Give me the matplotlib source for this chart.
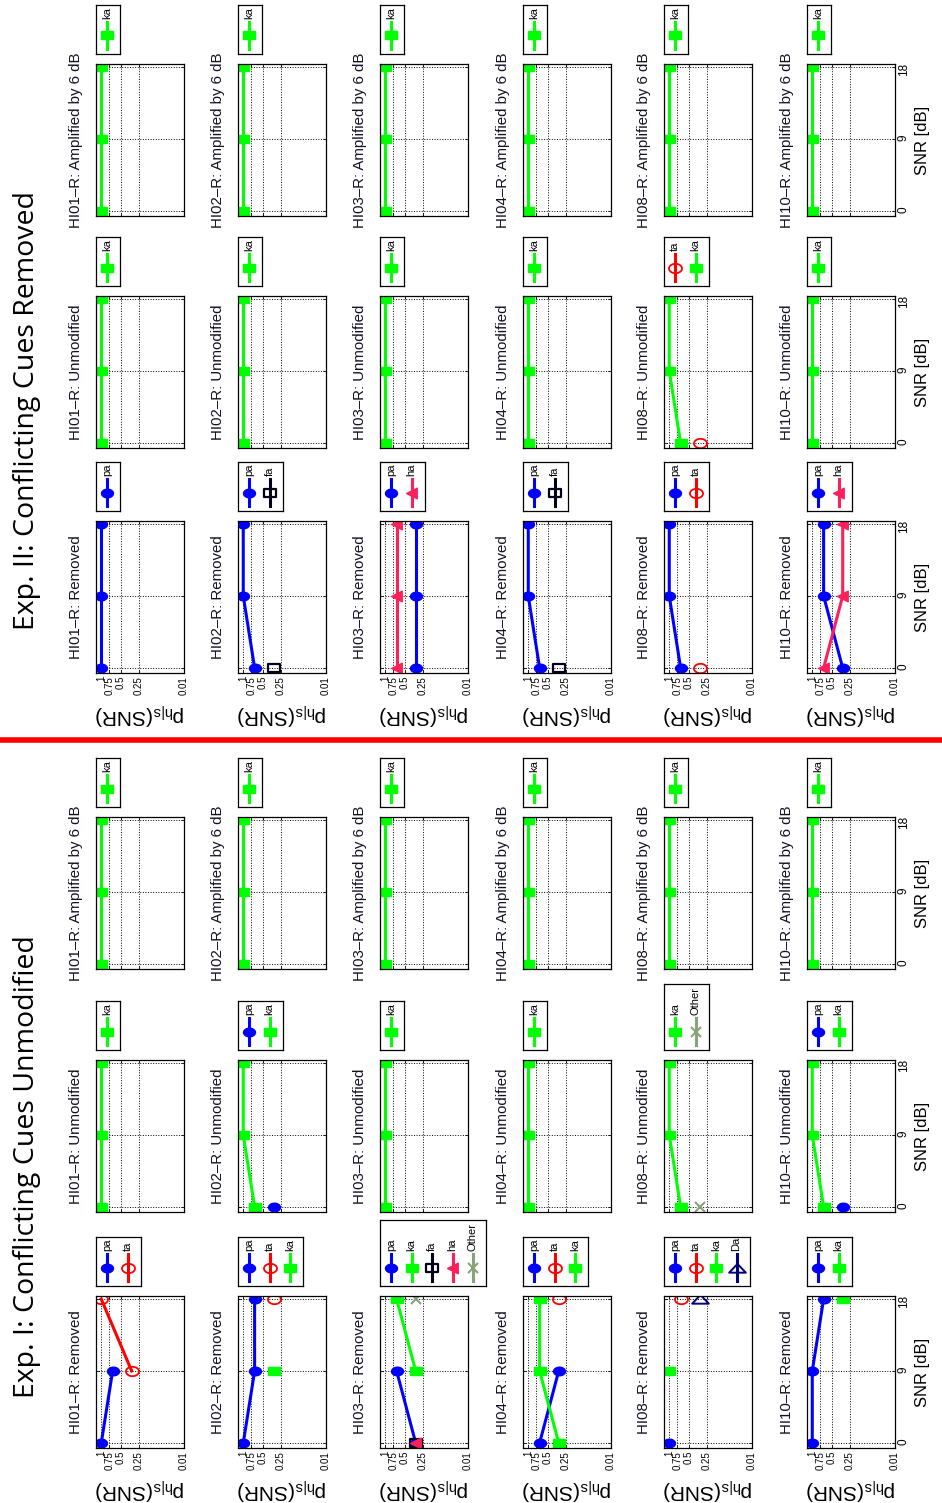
#!/usr/bin/env python3
import numpy as np
import matplotlib
matplotlib.use('Agg')
import matplotlib.pyplot as plt
from matplotlib.lines import Line2D
from matplotlib.path import Path

N = np.nan

#  ---data---
SNR = [0, 9, 18]
SUBJECTS = ['HI01', 'HI02', 'HI03', 'HI04', 'HI08', 'HI10']
CONDITIONS = ['Removed', 'Unmodified', 'Amplified by 6 dB']
P_TICKS = [0.01, 0.25, 0.5, 0.75, 1]
P_TICK_LABELS = ['0.01', '0.25', '0.5', '0.75', '1']
EXP_TITLES = ['Exp. I: Conflicting Cues Unmodified', 'Exp. II: Conflicting Cues Removed']

# one dict per subject: response -> p_{h|s} at SNR 0, 9, 18 (nan = no answer)
EXP1_REMOVED = [
    {'pa': [1, 0.67, N], 'ta': [N, 0.33, 1]},
    {'pa': [1, 0.67, 0.67], 'ta': [N, N, 0.33], 'ka': [N, 0.33, N]},
    {'pa': [0.33, 0.67, N], 'ka': [N, 0.33, 0.67], 'fa': [0.33, N, N],
     'ha': [0.33, N, N], 'Other': [N, N, 0.33]},
    {'pa': [0.67, 0.33, N], 'ta': [N, N, 0.33], 'ka': [0.33, 0.67, 0.67]},
    {'pa': [1, N, N], 'ta': [N, N, 0.67], 'ka': [N, 1, N], 'Da': [N, N, 0.33]},
    {'pa': [1, 1, 0.67], 'ka': [N, N, 0.33]},
]
EXP1_UNMODIFIED = [
    {'ka': [1, 1, 1]},
    {'pa': [0.33, N, N], 'ka': [0.67, 1, 1]},
    {'ka': [1, 1, 1]},
    {'ka': [1, 1, 1]},
    {'ka': [0.67, 1, 1], 'Other': [0.33, N, N]},
    {'pa': [0.33, N, N], 'ka': [0.67, 1, 1]},
]
EXP1_AMPLIFIED = [
    {'ka': [1, 1, 1]},
    {'ka': [1, 1, 1]},
    {'ka': [1, 1, 1]},
    {'ka': [1, 1, 1]},
    {'ka': [1, 1, 1]},
    {'ka': [1, 1, 1]},
]
EXP2_REMOVED = [
    {'pa': [1, 1, 1]},
    {'pa': [0.67, 1, 1], 'fa': [0.33, N, N]},
    {'pa': [0.33, 0.33, 0.33], 'ha': [0.67, 0.67, 0.67]},
    {'pa': [0.67, 1, 1], 'fa': [0.33, N, N]},
    {'pa': [0.67, 1, 1], 'ta': [0.33, N, N]},
    {'pa': [0.33, 0.67, 0.67], 'ha': [0.67, 0.33, 0.33]},
]
EXP2_UNMODIFIED = [
    {'ka': [1, 1, 1]},
    {'ka': [1, 1, 1]},
    {'ka': [1, 1, 1]},
    {'ka': [1, 1, 1]},
    {'ta': [0.33, N, N], 'ka': [0.67, 1, 1]},
    {'ka': [1, 1, 1]},
]
EXP2_AMPLIFIED = [
    {'ka': [1, 1, 1]},
    {'ka': [1, 1, 1]},
    {'ka': [1, 1, 1]},
    {'ka': [1, 1, 1]},
    {'ka': [1, 1, 1]},
    {'ka': [1, 1, 1]},
]

#  ---layout, in pixels of the (rotated) picture---
FIG_W, FIG_H = 942, 1503
ROW_X = [96, 238, 380, 523, 664, 807]   # one panel row per subject
AX_W, AX_H = 88, 152
EXP1_TOPS = [1296, 1060, 817]           # Removed, Unmodified, Amplified
EXP2_TOPS = [521, 296, 64]
TITLE_XY = [(27, 1167), (27, 410)]
SEPARATOR_Y = 740
LINE_W = 2.2

plt.rcParams['font.family'] = ['Liberation Sans', 'DejaVu Sans']
plt.rcParams['mathtext.default'] = 'regular'

# markers are squashed like the rest of the picture
_t = np.linspace(0, 2 * np.pi, 41)
ELLIPSE = Path(np.c_[np.cos(_t), 0.72 * np.sin(_t)], closed=True)
RECT = Path([(-1, -0.62), (1, -0.62), (1, 0.62), (-1, 0.62), (-1, -0.62)], closed=True)
TRI_LEFT = Path([(-1, 0), (0.8, 0.9), (0.8, -0.9), (-1, 0)], closed=True)
TRI_UP = Path([(-1, -0.5), (1, -0.5), (0, 0.55), (-1, -0.5)], closed=True)

STYLE = {
    'pa': dict(color='#0000ff', marker=ELLIPSE, ms=8.6, filled=True, mew=1),
    'ta': dict(color='#ff0000', marker=ELLIPSE, ms=9.4, filled=False, mew=1.3),
    'ka': dict(color='#00ff00', marker=RECT, ms=8.6, filled=True, mew=1),
    'fa': dict(color='#00001a', marker=RECT, ms=8.6, filled=False, mew=1.6),
    'ha': dict(color='#ff1f5b', marker=TRI_LEFT, ms=8.5, filled=True, mew=1),
    'Da': dict(color='#00007a', marker=TRI_UP, ms=12, filled=False, mew=1.4),
    'Other': dict(color='#86a37a', marker='x', ms=6.5, filled=False, mew=1.5),
}


def p_fwd(p):
    # probability axis, stretched towards 1
    return np.log(np.clip(np.asarray(p, dtype=float) + 0.06, 1e-6, None))


def p_inv(u):
    return np.exp(u) - 0.06


def px_rect(x, top, w, h):
    return [x / FIG_W, 1 - (top + h) / FIG_H, w / FIG_W, h / FIG_H]


def marker_kw(name):
    st = STYLE[name]
    return dict(color=st['color'], lw=LINE_W, marker=st['marker'], ms=st['ms'],
                mfc=st['color'] if st['filled'] else 'none', mec=st['color'], mew=st['mew'])


def draw_legend(fig, x, ax_top, names):
    n = len(names)
    w = 20.5 * n + 3.5
    h = 38 + 5.6 * max(len(s) for s in names)
    lax = fig.add_axes(px_rect(x, ax_top - 10 - h, w, h))
    lax.set_xlim(0, w)
    lax.set_ylim(0, h)
    lax.set_xticks([])
    lax.set_yticks([])
    for s in lax.spines.values():
        s.set_linewidth(0.9)
    for i, name in enumerate(names):
        cx = 11 + 20.5 * i
        kw = marker_kw(name)
        lax.plot([cx, cx], [5, 32], color=kw['color'], lw=LINE_W)
        kw.pop('lw')
        lax.plot([cx], [18.5], ls='none', **kw)
        lax.text(cx, 35, name, rotation=90, ha='center', va='bottom', fontsize=8)


def draw_panel(fig, x, top, series, title, show_p, show_snr):
    ax = fig.add_axes(px_rect(x, top, AX_W, AX_H))
    ax.set_xscale('function', functions=(p_fwd, p_inv))
    for name, vals in series.items():
        ax.plot(vals, SNR, **marker_kw(name))
    ax.set_xlim(1.2, 0.01)
    ax.set_ylim(-0.63, 18.38)
    ax.set_xticks(P_TICKS)
    ax.set_xticklabels(P_TICK_LABELS)
    ax.set_yticks(SNR)
    ax.grid(True, ls=':', color='k', lw=0.7)
    ax.tick_params(direction='in', length=2.5, width=0.6, top=True, right=True, pad=2,
                   labelbottom=show_p, labelleft=False, labelright=show_snr)
    ax.tick_params(axis='x', labelrotation=90, labelsize=7)
    ax.tick_params(axis='y', labelrotation=90, labelsize=8.5)
    for s in ax.spines.values():
        s.set_linewidth(0.9)
    ax.annotate(title, xy=(0, 0.5), xycoords='axes fraction', xytext=(-13, 0),
                textcoords='offset pixels', rotation=90, ha='right', va='center',
                fontsize=10.8, color='#111122')
    if show_p:
        ax.set_xlabel(r'p$_{h|s}$(SNR)', rotation=180, fontsize=15, labelpad=5)
    if show_snr:
        ax.yaxis.set_label_position('right')
        ax.set_ylabel('SNR [dB]', fontsize=12, labelpad=4)
    draw_legend(fig, x, top, list(series))
    return ax


def main():
    fig = plt.figure(figsize=(FIG_W / 100, FIG_H / 100), dpi=100)
    experiments = [([EXP1_REMOVED, EXP1_UNMODIFIED, EXP1_AMPLIFIED], EXP1_TOPS),
                   ([EXP2_REMOVED, EXP2_UNMODIFIED, EXP2_AMPLIFIED], EXP2_TOPS)]
    for e, (conds, tops) in enumerate(experiments):
        for c, cond in enumerate(CONDITIONS):
            for r, subj in enumerate(SUBJECTS):
                draw_panel(fig, ROW_X[r], tops[c], conds[c][r], f'{subj}\u2013R: {cond}',
                           c == 0, r == len(SUBJECTS) - 1)
        tx, ty = TITLE_XY[e]
        fig.text(tx / FIG_W, 1 - ty / FIG_H, EXP_TITLES[e], rotation=90, ha='center',
                 va='center', fontsize=20.5, family=['Open Sans', 'DejaVu Sans'])

    y = 1 - SEPARATOR_Y / FIG_H
    fig.add_artist(Line2D([0, 1], [y, y], transform=fig.transFigure, color='#ff0000', lw=4))
    fig.savefig('out.png', dpi=100)


if __name__ == '__main__':
    main()
